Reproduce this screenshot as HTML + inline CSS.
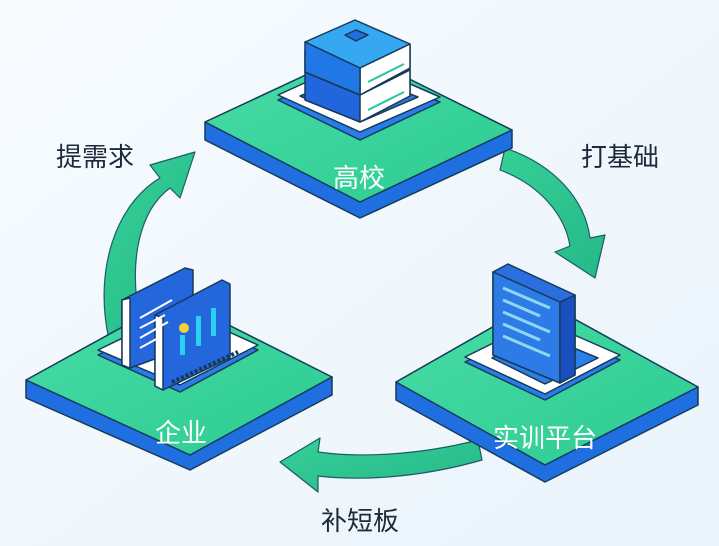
<!DOCTYPE html>
<html><head><meta charset="utf-8"><style>
html,body{margin:0;padding:0;background:#f4f9fd;}
svg{display:block}
text{font-family:"Liberation Sans","Noto Sans CJK SC",sans-serif;}
</style></head><body>
<svg width="719" height="546" viewBox="0 0 719 546" xmlns="http://www.w3.org/2000/svg">
<defs>
<linearGradient id="bg" x1="0" y1="0" x2="1" y2="1"><stop offset="0" stop-color="#f7fbfe"/><stop offset="1" stop-color="#eaf4fb"/></linearGradient>
<linearGradient id="gtop" x1="0" y1="0" x2="1" y2="1"><stop offset="0" stop-color="#48dca6"/><stop offset="1" stop-color="#2ccb92"/></linearGradient>
<linearGradient id="arr" x1="0" y1="0" x2="1" y2="1"><stop offset="0" stop-color="#36cf96"/><stop offset="1" stop-color="#25b989"/></linearGradient>
</defs>
<rect width="719" height="546" fill="url(#bg)"/>

<g fill="url(#arr)" stroke="#1e5a6a" stroke-width="1.2" stroke-linejoin="round">
  <path d="M108,335 C95,270 115,205 160,178 L150,165 L195,152 L180,198 L170,188 C140,210 128,260 140,320 Z"/>
  <path d="M505,148 C555,165 585,200 590,238 L605,235 L595,278 L555,252 L570,246 C565,215 540,185 500,170 Z"/>
  <path d="M478,440 C420,455 360,458 318,452 L320,438 L280,462 L318,492 L318,476 C370,482 430,475 482,460 Z"/>
</g>

<g stroke="#163a5a" stroke-width="1.5" stroke-linejoin="round">
  <path d="M205,122 L205,140 L360,218 L512,148 L512,130 Z" fill="#1f6fe0"/>
  <path d="M205,122 L355,52 L512,130 L360,202 Z" fill="url(#gtop)"/>
  <path d="M278,100 L355,66 L440,102 L360,140 Z" fill="#2a7de8"/>
  <path d="M278,95 L355,60 L440,97 L360,132 Z" fill="#ffffff"/>
  <path d="M300,96 L355,73 L418,97 L360,122 Z" fill="#2d7ee6"/>
  <path d="M305,72 L305,100 L360,122 L410,96 L410,68 Z" fill="#2266dd"/>
  <path d="M360,95 L410,70 L410,96 L360,122 Z" fill="#ffffff"/>
  <path d="M305,50 L305,72 L360,95 L410,68 L410,46 Z" fill="#2a84ea"/>
  <path d="M305,42 L355,20 L410,44 L360,68 Z" fill="#36a8f2"/>
  <path d="M360,68 L410,44 L410,68 L360,95 Z" fill="#ffffff"/>
  <path d="M305,42 L360,68 L360,95 L305,72 Z" fill="#1f78e6"/>
  <path d="M345,35 L356,30 L368,35 L356,41 Z" fill="#1f6fe0"/>
</g>
<g stroke="#2bc49a" stroke-width="2"><path d="M368,82 L404,64"/><path d="M368,110 L404,92"/></g>
<text x="359" y="187" font-size="26" fill="#fff" text-anchor="middle">高校</text>

<g stroke="#163a5a" stroke-width="1.5" stroke-linejoin="round">
  <path d="M26,380 L26,398 L190,470 L332,395 L332,377 Z" fill="#1f6fe0"/>
  <path d="M26,380 L175,298 L332,377 L190,455 Z" fill="url(#gtop)"/>
  <path d="M98,355 L180,315 L258,350 L180,392 Z" fill="#2a7de8"/>
  <path d="M98,350 L180,310 L258,345 L180,385 Z" fill="#ffffff"/>
  <path d="M122,300 L185,268 L193,270 L193,345 L130,368 L122,365 Z" fill="#2466dc"/>
  <path d="M122,300 L130,298 L130,368 L122,365 Z" fill="#fff"/>
  <path d="M155,315 L222,280 L230,284 L230,358 L163,390 L155,386 Z" fill="#2466dc"/>
  <path d="M155,315 L163,318 L163,390 L155,386 Z" fill="#fff"/>
</g>
<g stroke="#fff" stroke-width="2"><path d="M140,318 L172,300"/><path d="M140,328 L165,315"/><path d="M140,338 L168,322"/><path d="M140,348 L160,337"/></g>
<rect x="180" y="335" width="5" height="20" fill="#2ad0f0"/><rect x="196" y="316" width="5" height="30" fill="#2ad0f0"/><rect x="211" y="308" width="5" height="28" fill="#2ad0f0"/>
<circle cx="184" cy="328" r="5" fill="#f5d23a"/>
<path d="M172,382 L238,352" stroke="#163a5a" stroke-width="4" stroke-dasharray="3 2"/>
<text x="181" y="442" font-size="26" fill="#fff" text-anchor="middle">企业</text>

<g stroke="#163a5a" stroke-width="1.5" stroke-linejoin="round">
  <path d="M396,382 L396,400 L545,482 L698,405 L698,387 Z" fill="#1f6fe0"/>
  <path d="M396,382 L540,300 L698,387 L545,465 Z" fill="url(#gtop)"/>
  <path d="M465,362 L540,325 L620,360 L545,400 Z" fill="#2a7de8"/>
  <path d="M465,357 L540,320 L620,355 L545,394 Z" fill="#ffffff"/>
  <path d="M492,358 L540,334 L598,358 L545,384 Z" fill="#2d7ee6"/>
  <path d="M493,272 L508,264 L575,295 L575,375 L560,383 L493,355 Z" fill="#2a6ee0"/>
  <path d="M493,272 L560,302 L560,383 L493,355 Z" fill="#2d7be6"/>
  <path d="M560,302 L575,295 L575,375 L560,383 Z" fill="#1a4fc0"/>
</g>
<g stroke="#8fd6f5" stroke-width="3"><path d="M503,288 L550,308"/><path d="M503,300 L540,316"/><path d="M503,312 L550,332"/><path d="M503,324 L540,340"/><path d="M503,336 L550,356"/></g>
<text x="545" y="447" font-size="26" fill="#fff" text-anchor="middle">实训平台</text>

<text x="95" y="166" font-size="26" fill="#1c2a3a" text-anchor="middle">提需求</text>
<text x="620" y="166" font-size="26" fill="#1c2a3a" text-anchor="middle">打基础</text>
<text x="360" y="530" font-size="26" fill="#1c2a3a" text-anchor="middle">补短板</text>
</svg>
</body></html>
